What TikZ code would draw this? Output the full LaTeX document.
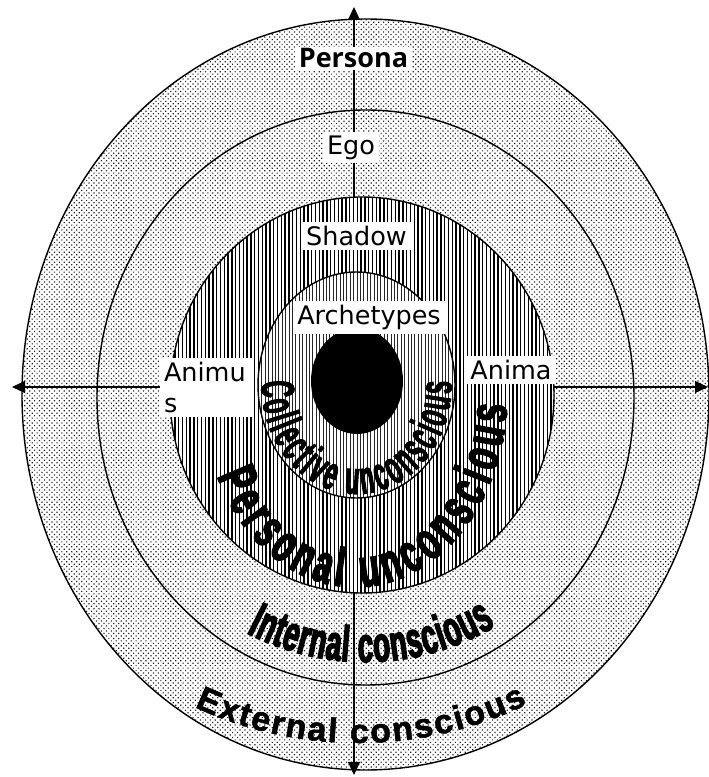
\documentclass[tikz,border=0pt]{standalone}
\usepackage{fontspec}
\setmainfont{DejaVu Sans}
\newfontfamily\perFont{Open Sans}
\newfontfamily\cuFont[FakeStretch=0.5,FakeBold=2]{Liberation Sans}
\newfontfamily\puFont[FakeStretch=0.6,FakeBold=3]{Liberation Sans}
\newfontfamily\icFont[FakeStretch=0.55,FakeBold=3]{Liberation Sans}
\newfontfamily\ecFont[FakeBold=1.5]{Liberation Sans}
\newcommand{\cuStyle}{\cuFont\bfseries\fontsize{47}{47}\selectfont}
\newcommand{\puStyle}{\puFont\bfseries\fontsize{54}{54}\selectfont}
\newcommand{\icStyle}{\icFont\bfseries\fontsize{50}{50}\selectfont}
\newcommand{\ecStyle}{\ecFont\bfseries\fontsize{34}{34}\selectfont}
\usetikzlibrary{patterns.meta,decorations.text,arrows.meta,calc}
\begin{document}
\begin{tikzpicture}[x=1pt,y=1pt,
  dotring/.style={preaction={fill=white}, pattern={Dots[distance=3.5pt,angle=45,radius=0.85pt]}, pattern color=black!85, draw=black, line width=1.4pt},
  stripering/.style={preaction={fill=white}, pattern={Lines[angle=90,distance=3.8pt,line width=1.4pt]}, pattern color=black, draw=black, line width=1.4pt},
  thinstripe/.style={preaction={fill=white}, pattern={Lines[angle=90,distance=3.4pt,line width=1.0pt]}, pattern color=black!85, draw=black, line width=1.4pt},
  axis/.style={line width=1.2pt, arrows={Triangle[length=13pt,width=12pt]-Triangle[length=13pt,width=12pt]}},
  lbl/.style={fill=white, inner xsep=4pt, inner ysep=4pt, font=\fontsize{25.5}{31}\selectfont},
  lblb/.style={lbl, font=\perFont\bfseries\fontsize{27}{30}\selectfont, inner ysep=2pt},
  curved/.style={decorate}
]
\useasboundingbox (0,0) rectangle (709,777);
\fill[white] (0,0) rectangle (709,777);

% centres
\coordinate (co) at (365.5,382.5);
\coordinate (ce) at (365.5,379.5);
\coordinate (cs) at (362,382);
\coordinate (cc) at (356.5,392);
\coordinate (cb) at (357,396);

% rings
\path[dotring] (co) ellipse [x radius=343.5pt, y radius=375.5pt];
\path[dotring] (ce) ellipse [x radius=268.5pt, y radius=287.5pt];

% axes
\coordinate (topend) at (354,770);
\coordinate (botend) at (354,2);
\coordinate (leftend) at (12,390);
\coordinate (rightend) at (708,390);
\draw[axis] (botend) -- (topend);
\draw[axis] (leftend) -- (rightend);

\path[stripering] (cs) ellipse [x radius=192pt, y radius=198pt];
\path[thinstripe] (cc) ellipse [x radius=98.5pt, y radius=113pt];
\fill[black] (cb) ellipse [x radius=46pt, y radius=53pt];

% curved texts
\path[curved, decoration={text along path, text={|\cuStyle|Collective unconscious}, text align={fit to path}}]
  ($(cc)+(178:95pt and 109pt)$) arc[start angle=178, end angle=362, x radius=95pt, y radius=109pt];
\path[curved, decoration={text along path, text={|\puStyle|Personal unconscious}, text align={fit to path}}]
  ($(355,382)+(205:152pt and 192pt)$) arc[start angle=205, end angle=357, x radius=152pt, y radius=192pt];
\path[curved, decoration={text along path, text={|\icStyle|Internal conscious}, text align={fit to path}}]
  ($(365,382)+(243:261pt and 267pt)$) arc[start angle=243, end angle=300, x radius=261pt, y radius=267pt];
\path[curved, decoration={text along path, text={|\ecStyle|External conscious}, text align={fit to path}}]
  ($(358,390)+(244:373pt and 356pt)$) arc[start angle=244, end angle=297, x radius=373pt, y radius=356pt];

% labels
\node[lblb] (persona) at (353.5,718.5) {Persona};
\node[lbl] (ego) at (351,629.5) {Ego};
\node[lbl] (shadow) at (356.5,541) {Shadow};
\node[lbl] (arch) at (369,459.5) {Archetypes};
\node[lbl, text width=84pt, align=left] (animus) at (206,389.5) {Animu\\s};
\node[lbl] (anima) at (511,407) {Anima};
\end{tikzpicture}
\end{document}
